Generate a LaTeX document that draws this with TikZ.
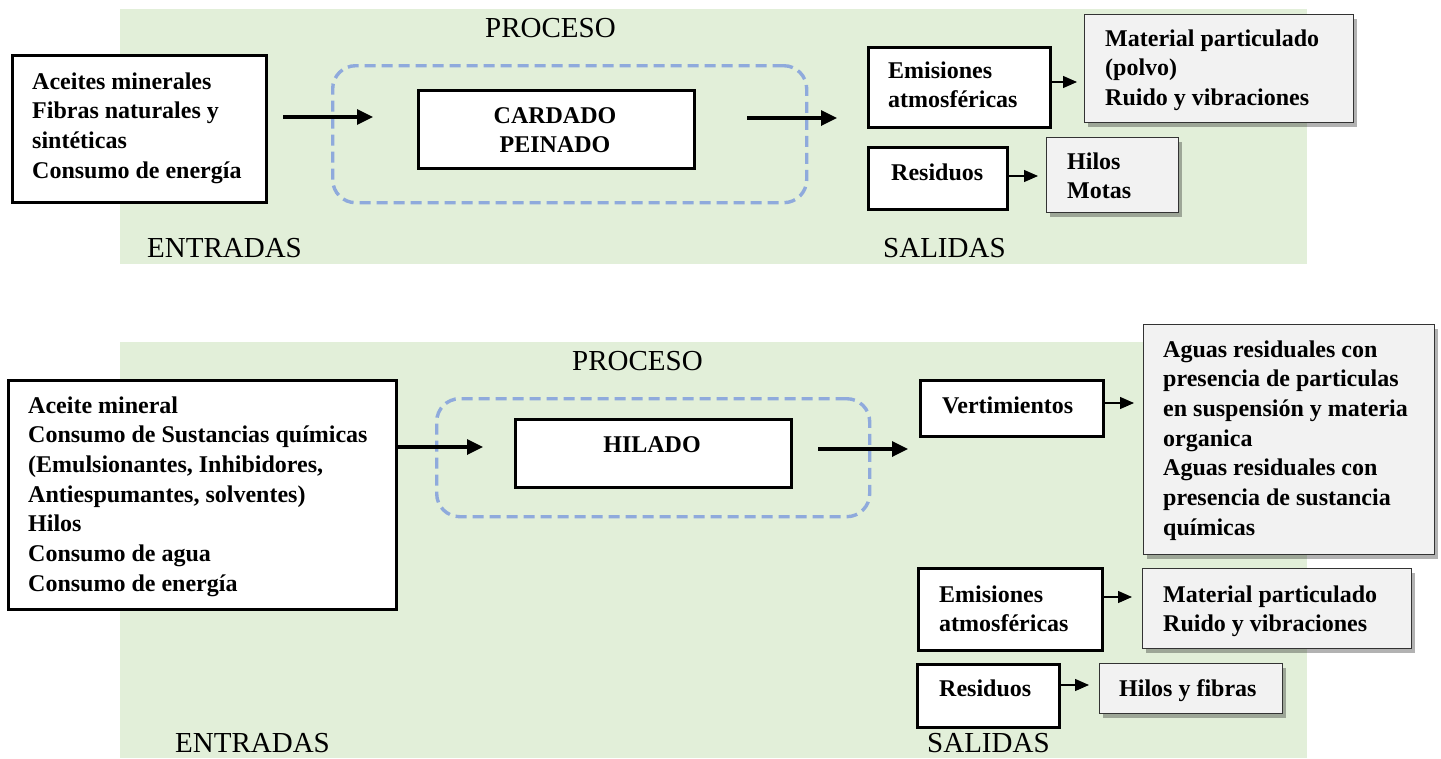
\documentclass[tikz,border=0pt]{standalone}
\usepackage{fontspec}
\setmainfont{Liberation Serif}
\usetikzlibrary{arrows.meta,shadows}
\definecolor{bggreen}{HTML}{E2EFD9}
\definecolor{dashblue}{HTML}{8FAADC}
\definecolor{boxgray}{HTML}{F2F2F2}
\newcommand\mystack[1]{\vtop{\baselineskip=29.7pt\lineskiplimit=-100pt #1}}
\newcommand\txtrow[1]{\hbox{#1}}
\tikzset{
  wbox/.style={draw=black, line width=2.5pt, fill=white, anchor=north west, inner sep=0pt},
  gbox/.style={draw=black!80, line width=1.4pt, fill=boxgray, anchor=north west, inner sep=0pt,
     drop shadow={shadow xshift=3pt, shadow yshift=-4pt, fill=black, opacity=0.3}},
  dbox/.style={draw=dashblue, line width=3.4pt, dash pattern=on 11pt off 6pt, rounded corners=23pt,
     anchor=north west, inner sep=0pt},
  bigarrow/.style={line width=3.3pt, -{Triangle[length=16pt,width=15pt]}},
  smallarrow/.style={line width=1.3pt, -{Triangle[length=14pt,width=12pt]}},
  txt/.style={font=\fontsize{24}{29.7}\selectfont\bfseries, inner sep=0pt, anchor=base west},
  ctxt/.style={font=\fontsize{24}{29.7}\selectfont\bfseries, inner sep=0pt, anchor=base},
  lbl/.style={font=\fontsize{29}{34}\selectfont, inner sep=0pt, anchor=base west},
}
\begin{document}
\begin{tikzpicture}[x=1pt,y=-1pt]
\useasboundingbox (0,0) rectangle (1441,758);
% ---------------- TOP ----------------
\fill[bggreen] (120,9) rectangle (1307,264);
\node[lbl] (proc1) at (485,37) {PROCESO};
\node[lbl] (ent1) at (147,257) {ENTRADAS};
\node[lbl] (sal1) at (883,257) {SALIDAS};

\node[wbox, minimum width=254pt, minimum height=147pt] (in1) at (11,54) {};
\node[txt] (in1t) at (32,89) {\mystack{\txtrow{Aceites minerales}\txtrow{Fibras naturales y}\txtrow{sintéticas}\txtrow{Consumo de energía}}};

\node[dbox, minimum width=474pt, minimum height=137pt] (d1) at (331,64) {};
\node[wbox, minimum width=276pt, minimum height=78pt] (p1) at (417,89) {};
\node[ctxt] (p1a) at (555,123) {CARDADO};
\node[ctxt] (p1b) at (555,152) {PEINADO};

\coordinate (a1s) at (283,117);
\coordinate (a1e) at (373,117);
\draw[bigarrow] (a1s) -- (a1e);
\coordinate (a2s) at (747,118);
\coordinate (a2e) at (837,118);
\draw[bigarrow] (a2s) -- (a2e);

\node[wbox, minimum width=182pt, minimum height=80pt] (em1) at (867,46) {};
\node[txt] (em1t) at (888,78) {\mystack{\txtrow{Emisiones}\txtrow{atmosféricas}}};
\node[gbox, minimum width=269pt, minimum height=108pt] (mp1) at (1084,14) {};
\node[txt] (mp1t) at (1105,46) {\mystack{\txtrow{Material particulado}\txtrow{(polvo)}\txtrow{Ruido y vibraciones}}};
\coordinate (s1e) at (1077,82);
\draw[smallarrow] (em1.east |- s1e) -- (s1e);

\node[wbox, minimum width=139pt, minimum height=62pt] (re1) at (867,146) {};
\node[txt] (re1t) at (891,180) {Residuos};
\node[gbox, minimum width=132pt, minimum height=75pt] (hm1) at (1046,137) {};
\node[txt] (hm1t) at (1067,169) {\mystack{\txtrow{Hilos}\txtrow{Motas}}};
\coordinate (s2e) at (1038,176);
\draw[smallarrow] (re1.east |- s2e) -- (s2e);

% ---------------- BOTTOM ----------------
\fill[bggreen] (120,342) rectangle (1307,758);
\node[lbl] (proc2) at (572,370) {PROCESO};
\node[lbl] (ent2) at (175,752) {ENTRADAS};
\node[lbl] (sal2) at (927,752) {SALIDAS};

\node[wbox, minimum width=388pt, minimum height=229pt] (in2) at (7,379) {};
\node[txt] (in2t) at (28,413) {\mystack{\txtrow{Aceite mineral}\txtrow{Consumo de Sustancias químicas}\txtrow{(Emulsionantes, Inhibidores,}\txtrow{Antiespumantes, solventes)}\txtrow{Hilos}\txtrow{Consumo de agua}\txtrow{Consumo de energía}}};

\node[dbox, minimum width=433pt, minimum height=118pt] (d2) at (435,397) {};
\node[wbox, minimum width=276pt, minimum height=68pt] (p2) at (514,418) {};
\node[ctxt] (p2t) at (652,452) {HILADO};

\coordinate (a3e) at (483,447);
\draw[bigarrow] (in2.east |- a3e) -- (a3e);
\coordinate (a4s) at (818,449);
\coordinate (a4e) at (908,449);
\draw[bigarrow] (a4s) -- (a4e);

\node[wbox, minimum width=183pt, minimum height=56pt] (ve) at (919,379) {};
\node[txt] (vet) at (942,413) {Vertimientos};
\node[gbox, minimum width=291pt, minimum height=230pt] (ag) at (1143,324) {};
\node[txt] (agt) at (1163,357) {\mystack{\txtrow{Aguas residuales con}\txtrow{presencia de particulas}\txtrow{en suspensión y materia}\txtrow{organica}\txtrow{Aguas residuales con}\txtrow{presencia de sustancia}\txtrow{químicas}}};
\coordinate (s3e) at (1134,403);
\draw[smallarrow] (ve.east |- s3e) -- (s3e);

\node[wbox, minimum width=184pt, minimum height=82pt] (em2) at (917,567) {};
\node[txt] (em2t) at (939,602) {\mystack{\txtrow{Emisiones}\txtrow{atmosféricas}}};
\node[gbox, minimum width=269pt, minimum height=80pt] (mp2) at (1142,568) {};
\node[txt] (mp2t) at (1163,602) {\mystack{\txtrow{Material particulado}\txtrow{Ruido y vibraciones}}};
\coordinate (s4e) at (1132,597);
\draw[smallarrow] (em2.east |- s4e) -- (s4e);

\node[wbox, minimum width=142pt, minimum height=63pt] (re2) at (916,663) {};
\node[txt] (re2t) at (939,696) {Residuos};
\node[gbox, minimum width=183pt, minimum height=50pt] (hf) at (1099,663) {};
\node[txt] (hft) at (1119,696) {Hilos y fibras};
\coordinate (s5e) at (1089,685);
\draw[smallarrow] (re2.east |- s5e) -- (s5e);
\end{tikzpicture}
\end{document}
